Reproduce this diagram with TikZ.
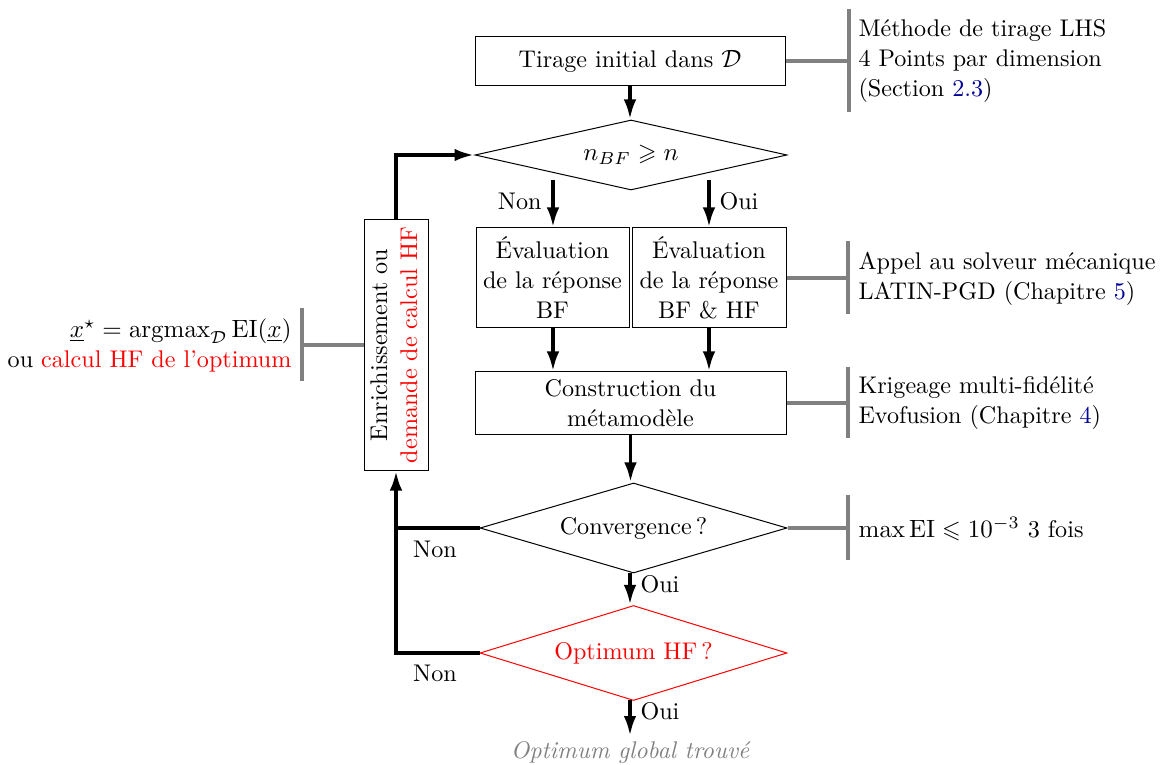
\documentclass[tikz,border=0pt]{standalone}
\usepackage{amsmath,amssymb}
\usepackage{graphicx}
\usetikzlibrary{shapes.geometric,arrows.meta}
\definecolor{linkblue}{rgb}{0,0,0.6}
\begin{document}
\begin{tikzpicture}[x=0.4pt,y=-0.4pt,
  font=\fontsize{9.65pt}{12pt}\selectfont,
  stepbox/.style={draw,rectangle,align=center,inner sep=0pt},
  decision/.style={draw,diamond,inner sep=0pt,aspect=4},
  arr/.style={line width=1.5pt,-{Latex[length=8pt,width=5pt]}},
  loopline/.style={line width=1.6pt},
  looparr/.style={line width=1.6pt,-{Latex[length=8pt,width=5pt]}},
  grayline/.style={line width=1.6pt,draw=gray},
  note/.style={align=left,anchor=west,inner sep=0pt},
  lbl/.style={inner sep=0pt}
]
\useasboundingbox (0,0) rectangle (1161,765);

% main nodes
\node[stepbox,minimum width=124pt,minimum height=19.6pt] (tirage) at (630,61.5) {Tirage initial dans $\mathcal{D}$};
\node[decision,minimum width=124.8pt,minimum height=28pt] (d1) at (631,155) {$n_{BF}\geqslant n$};
\node[stepbox,minimum width=61.2pt,minimum height=40pt] (bf) at (552.5,278) {Évaluation\\de la réponse\\BF};
\node[stepbox,minimum width=61.6pt,minimum height=40pt] (bfhf) at (709,278) {Évaluation\\de la réponse\\BF \& HF};
\node[stepbox,minimum width=124.4pt,minimum height=25.2pt] (constr) at (630.5,403.5) {Construction du\\métamodèle};
\node[decision,minimum width=122.8pt,minimum height=36pt] (d2) at (633.5,528) {Convergence\,?};
\node[decision,draw=red,text=red,minimum width=122.8pt,minimum height=38pt] (d3) at (633.5,653) {Optimum HF\,?};
\node[lbl,text=gray] (fin) at (630,752) {\itshape Optimum global trouvé};
\node[stepbox,minimum width=25.6pt,minimum height=100pt] (enr) at (396,345)
  {\rotatebox{90}{\begin{tabular}{@{}c@{}}Enrichissement ou\\\textcolor{red}{demande de calcul HF}\end{tabular}}};

% flow arrows
\draw[arr] (tirage.south) -- (tirage.south |- d1.north);
\coordinate (n1) at (553,180);
\coordinate (o1) at (709,180);
\draw[arr] (n1) -- (n1 |- bf.north);
\draw[arr] (o1) -- (o1 |- bfhf.north);
\node[lbl,anchor=east] (lnon1) at (542,201) {Non};
\node[lbl,anchor=west] (loui1) at (719,201) {Oui};
\draw[arr] (bf.south -| n1) -- (n1 |- constr.north);
\draw[arr] (bfhf.south -| o1) -- (o1 |- constr.north);
\draw[arr] (constr.south) -- (constr.south |- d2.north);
\coordinate (c2) at (630,573);
\draw[arr] (c2) -- (c2 |- d3.north);
\node[lbl,anchor=west] (loui2) at (640,584) {Oui};
\coordinate (c3) at (630,700);
\coordinate (c4) at (630,736);
\draw[arr] (c3) -- (c4);
\node[lbl,anchor=west] (loui3) at (640,711) {Oui};

% loop
\draw[looparr] (d2.west) -- (enr.south |- d2.west) -- (enr.south);
\draw[loopline] (d3.west) -- (enr.south |- d3.west) -- (enr.south |- d2.west);
\draw[looparr] (enr.north) -- (enr.north |- d1.west) -- (d1.west);
\node[lbl] (lnon2) at (435,549) {Non};
\node[lbl] (lnon3) at (435,673) {Non};

% annotations
\draw[grayline] (tirage.east) -- ++(63,0) coordinate (b1);
\draw[grayline] ([yshift=-20.4pt]b1) -- ([yshift=20.8pt]b1);
\node[note] (t1) at (858,61.5) {Méthode de tirage LHS\\4 Points par dimension\\(Section \textcolor{linkblue}{2.3})};

\draw[grayline] (bfhf.east) -- (848,278) coordinate (b2);
\draw[grayline] ([yshift=-14.4pt]b2) -- ([yshift=14.8pt]b2);
\node[note] (t2) at (858,278.5) {Appel au solveur mécanique\\LATIN-PGD (Chapitre \textcolor{linkblue}{5})};

\draw[grayline] (constr.east) -- (848,403.5) coordinate (b3);
\draw[grayline] ([yshift=-14pt]b3) -- ([yshift=14.4pt]b3);
\node[note] (t3) at (858,403.5) {Krigeage multi-fidélité\\Evofusion (Chapitre \textcolor{linkblue}{4})};

\draw[grayline] (d2.east) -- (848,528) coordinate (b4);
\draw[grayline] ([yshift=-12.8pt]b4) -- ([yshift=13.2pt]b4);
\node[note] (t4) at (858,529) {$\max \mathrm{EI} \leqslant 10^{-3}$ 3 fois};

\draw[grayline] (enr.west) -- (302,345) coordinate (b5);
\draw[grayline] ([yshift=-14.4pt]b5) -- ([yshift=14.8pt]b5);
\node[align=right,anchor=east,inner sep=0pt] (t5) at (292,345.5) {$\underline{x}^{\star} = \operatorname{argmax}_{\mathcal{D}} \mathrm{EI}(\underline{x})$\\ou \textcolor{red}{calcul HF de l'optimum}};
\end{tikzpicture}
\end{document}
